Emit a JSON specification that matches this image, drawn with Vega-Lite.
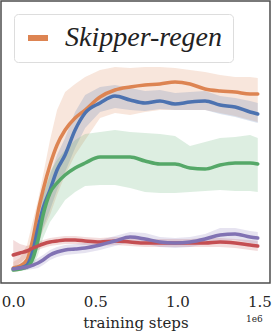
{
  "$schema": "https://vega.github.io/schema/vega-lite/v6.json",
  "width": 269,
  "height": 282,
  "autosize": "none",
  "padding": {"left": 1, "top": 1, "right": 2, "bottom": 52},
  "config": {
    "view": {"stroke": "#4d4d4d", "strokeWidth": 1.5},
    "font": "DejaVu Serif"
  },
  "layer": [
    {
      "data": {"values": [
      {"s":"Skipper-regen","x":0,"y":15,"lo":11,"hi":21},
      {"s":"Skipper-regen","x":0.041,"y":17,"lo":12,"hi":25},
      {"s":"Skipper-regen","x":0.084,"y":23,"lo":15,"hi":38},
      {"s":"Skipper-regen","x":0.121,"y":45,"lo":25,"hi":63},
      {"s":"Skipper-regen","x":0.151,"y":71,"lo":38,"hi":83},
      {"s":"Skipper-regen","x":0.182,"y":93,"lo":53,"hi":108},
      {"s":"Skipper-regen","x":0.224,"y":118,"lo":68,"hi":143},
      {"s":"Skipper-regen","x":0.267,"y":138,"lo":88,"hi":173},
      {"s":"Skipper-regen","x":0.316,"y":153,"lo":108,"hi":191},
      {"s":"Skipper-regen","x":0.377,"y":165,"lo":128,"hi":199},
      {"s":"Skipper-regen","x":0.438,"y":173,"lo":143,"hi":206},
      {"s":"Skipper-regen","x":0.529,"y":186,"lo":165,"hi":213},
      {"s":"Skipper-regen","x":0.620,"y":193,"lo":170,"hi":216},
      {"s":"Skipper-regen","x":0.712,"y":196,"lo":168,"hi":215},
      {"s":"Skipper-regen","x":0.803,"y":198,"lo":171,"hi":216},
      {"s":"Skipper-regen","x":0.894,"y":199,"lo":173,"hi":216},
      {"s":"Skipper-regen","x":0.986,"y":201,"lo":173,"hi":215},
      {"s":"Skipper-regen","x":1.077,"y":199,"lo":173,"hi":213},
      {"s":"Skipper-regen","x":1.169,"y":194,"lo":173,"hi":211},
      {"s":"Skipper-regen","x":1.260,"y":192,"lo":170,"hi":208},
      {"s":"Skipper-regen","x":1.352,"y":191,"lo":167,"hi":206},
      {"s":"Skipper-regen","x":1.443,"y":189,"lo":163,"hi":206},
      {"s":"Skipper-regen","x":1.49,"y":189,"lo":161,"hi":205},

      {"s":"method B","x":0,"y":14,"lo":12,"hi":17},
      {"s":"method B","x":0.041,"y":15,"lo":13,"hi":19},
      {"s":"method B","x":0.084,"y":18,"lo":14,"hi":25},
      {"s":"method B","x":0.121,"y":33,"lo":23,"hi":45},
      {"s":"method B","x":0.151,"y":55,"lo":38,"hi":68},
      {"s":"method B","x":0.182,"y":75,"lo":55,"hi":88},
      {"s":"method B","x":0.224,"y":93,"lo":73,"hi":108},
      {"s":"method B","x":0.267,"y":113,"lo":93,"hi":128},
      {"s":"method B","x":0.316,"y":128,"lo":111,"hi":145},
      {"s":"method B","x":0.377,"y":153,"lo":135,"hi":171},
      {"s":"method B","x":0.438,"y":170,"lo":155,"hi":188},
      {"s":"method B","x":0.529,"y":180,"lo":171,"hi":196},
      {"s":"method B","x":0.620,"y":187,"lo":175,"hi":198},
      {"s":"method B","x":0.712,"y":183,"lo":173,"hi":195},
      {"s":"method B","x":0.803,"y":180,"lo":172,"hi":192},
      {"s":"method B","x":0.894,"y":182,"lo":174,"hi":193},
      {"s":"method B","x":0.986,"y":179,"lo":173,"hi":190},
      {"s":"method B","x":1.077,"y":181,"lo":173,"hi":191},
      {"s":"method B","x":1.169,"y":182,"lo":173,"hi":192},
      {"s":"method B","x":1.260,"y":178,"lo":169,"hi":187},
      {"s":"method B","x":1.352,"y":176,"lo":166,"hi":185},
      {"s":"method B","x":1.443,"y":171,"lo":162,"hi":182},
      {"s":"method B","x":1.49,"y":169,"lo":160,"hi":180},

      {"s":"method C","x":0,"y":13,"lo":11,"hi":16},
      {"s":"method C","x":0.041,"y":14,"lo":12,"hi":17},
      {"s":"method C","x":0.084,"y":16,"lo":13,"hi":21},
      {"s":"method C","x":0.121,"y":25,"lo":17,"hi":35},
      {"s":"method C","x":0.151,"y":43,"lo":28,"hi":58},
      {"s":"method C","x":0.182,"y":68,"lo":45,"hi":88},
      {"s":"method C","x":0.224,"y":90,"lo":61,"hi":111},
      {"s":"method C","x":0.267,"y":100,"lo":71,"hi":123},
      {"s":"method C","x":0.316,"y":108,"lo":83,"hi":133},
      {"s":"method C","x":0.377,"y":115,"lo":91,"hi":143},
      {"s":"method C","x":0.438,"y":120,"lo":97,"hi":149},
      {"s":"method C","x":0.529,"y":126,"lo":98,"hi":151},
      {"s":"method C","x":0.620,"y":126,"lo":98,"hi":153},
      {"s":"method C","x":0.712,"y":126,"lo":95,"hi":151},
      {"s":"method C","x":0.803,"y":122,"lo":91,"hi":150},
      {"s":"method C","x":0.894,"y":119,"lo":90,"hi":149},
      {"s":"method C","x":0.986,"y":119,"lo":90,"hi":147},
      {"s":"method C","x":1.077,"y":115,"lo":91,"hi":137},
      {"s":"method C","x":1.169,"y":114,"lo":92,"hi":141},
      {"s":"method C","x":1.260,"y":118,"lo":93,"hi":145},
      {"s":"method C","x":1.352,"y":120,"lo":92,"hi":146},
      {"s":"method C","x":1.443,"y":120,"lo":92,"hi":148},
      {"s":"method C","x":1.49,"y":119,"lo":91,"hi":145},

      {"s":"method D","x":0,"y":28,"lo":15,"hi":43},
      {"s":"method D","x":0.041,"y":30,"lo":20,"hi":39},
      {"s":"method D","x":0.084,"y":32,"lo":26,"hi":37},
      {"s":"method D","x":0.121,"y":35,"lo":30,"hi":39},
      {"s":"method D","x":0.151,"y":37,"lo":33,"hi":41},
      {"s":"method D","x":0.182,"y":39,"lo":35,"hi":43},
      {"s":"method D","x":0.224,"y":41,"lo":37,"hi":45},
      {"s":"method D","x":0.267,"y":42,"lo":38,"hi":46},
      {"s":"method D","x":0.316,"y":43,"lo":39,"hi":47},
      {"s":"method D","x":0.377,"y":43,"lo":39,"hi":47},
      {"s":"method D","x":0.438,"y":42,"lo":38,"hi":46},
      {"s":"method D","x":0.529,"y":41,"lo":37,"hi":45},
      {"s":"method D","x":0.620,"y":42,"lo":38,"hi":46},
      {"s":"method D","x":0.712,"y":41,"lo":37,"hi":45},
      {"s":"method D","x":0.803,"y":40,"lo":36,"hi":44},
      {"s":"method D","x":0.894,"y":40,"lo":36,"hi":44},
      {"s":"method D","x":0.986,"y":40,"lo":36,"hi":44},
      {"s":"method D","x":1.077,"y":40,"lo":36,"hi":44},
      {"s":"method D","x":1.169,"y":40,"lo":36,"hi":45},
      {"s":"method D","x":1.260,"y":41,"lo":36,"hi":45},
      {"s":"method D","x":1.352,"y":40,"lo":35,"hi":44},
      {"s":"method D","x":1.443,"y":38,"lo":33,"hi":43},
      {"s":"method D","x":1.49,"y":37,"lo":32,"hi":42},

      {"s":"method E","x":0,"y":14,"lo":12,"hi":16},
      {"s":"method E","x":0.041,"y":15,"lo":13,"hi":17},
      {"s":"method E","x":0.084,"y":16,"lo":13,"hi":19},
      {"s":"method E","x":0.121,"y":18,"lo":14,"hi":22},
      {"s":"method E","x":0.151,"y":20,"lo":15,"hi":25},
      {"s":"method E","x":0.182,"y":23,"lo":18,"hi":28},
      {"s":"method E","x":0.224,"y":28,"lo":23,"hi":33},
      {"s":"method E","x":0.267,"y":31,"lo":26,"hi":36},
      {"s":"method E","x":0.316,"y":33,"lo":28,"hi":38},
      {"s":"method E","x":0.377,"y":34,"lo":29,"hi":39},
      {"s":"method E","x":0.438,"y":35,"lo":30,"hi":40},
      {"s":"method E","x":0.529,"y":38,"lo":33,"hi":43},
      {"s":"method E","x":0.620,"y":42,"lo":37,"hi":47},
      {"s":"method E","x":0.712,"y":46,"lo":41,"hi":51},
      {"s":"method E","x":0.803,"y":44,"lo":39,"hi":50},
      {"s":"method E","x":0.894,"y":41,"lo":36,"hi":46},
      {"s":"method E","x":0.986,"y":40,"lo":35,"hi":45},
      {"s":"method E","x":1.077,"y":41,"lo":36,"hi":46},
      {"s":"method E","x":1.169,"y":44,"lo":39,"hi":49},
      {"s":"method E","x":1.260,"y":48,"lo":42,"hi":55},
      {"s":"method E","x":1.352,"y":49,"lo":43,"hi":55},
      {"s":"method E","x":1.443,"y":46,"lo":40,"hi":52},
      {"s":"method E","x":1.49,"y":45,"lo":39,"hi":51}
      ]},
      "encoding": {
        "x": {
          "field": "x", "type": "quantitative",
          "scale": {"domain": [-0.0745, 1.5645], "nice": false, "zero": false},
          "axis": {
            "title": "training steps", "values": [0, 0.5, 1, 1.5], "format": ".1f",
            "ticks": false, "domain": false, "grid": false, "labelFlush": false,
            "labelFont": "DejaVu Serif", "labelFontSize": 15, "labelColor": "#262626",
            "labelPadding": 11,
            "titleFont": "DejaVu Serif", "titleFontSize": 15, "titleFontWeight": "normal",
            "titleColor": "#262626", "titlePadding": 6
          }
        },
        "color": {
          "field": "s", "type": "nominal",
          "scale": {"domain": ["method B","Skipper-regen","method C","method D","method E"],
                    "range": ["#4C72B0","#DD8452","#55A868","#C44E52","#8172B3"]},
          "legend": {
            "values": ["Skipper-regen"], "title": null,
            "orient": "none", "legendX": 13, "legendY": 13,
            "symbolType": "stroke", "symbolSize": 400, "symbolStrokeWidth": 6,
            "symbolOpacity": 1, "symbolStrokeColor": "#DD8452",
            "labelFont": "Liberation Serif", "labelFontStyle": "italic",
            "labelFontSize": 28, "labelColor": "#222222", "labelOffset": 13,
            "padding": 10, "fillColor": "white", "strokeColor": "#dddddd",
            "cornerRadius": 4, "labelLimit": 300
          }
        }
      },
      "layer": [
        {
          "mark": {"type": "area", "opacity": 0.2},
          "encoding": {
            "y": {"field": "hi", "type": "quantitative", "scale": {"domain": [0, 282], "nice": false, "zero": false}, "axis": null},
            "y2": {"field": "lo"}
          }
        },
        {
          "mark": {"type": "line", "strokeWidth": 3.5, "strokeCap": "round", "strokeJoin": "round", "interpolate": "monotone"},
          "encoding": {
            "y": {"field": "y", "type": "quantitative", "scale": {"domain": [0, 282], "nice": false, "zero": false}, "axis": null}
          }
        }
      ]
    },
    {
      "data": {"values": [{"label": "1e6"}]},
      "mark": {"type": "text", "align": "right", "baseline": "middle", "fontSize": 9, "color": "#262626", "font": "DejaVu Serif"},
      "encoding": {
        "x": {"datum": 1.52, "type": "quantitative"},
        "y": {"datum": -36, "type": "quantitative"},
        "text": {"field": "label"}
      }
    }
  ]
}
